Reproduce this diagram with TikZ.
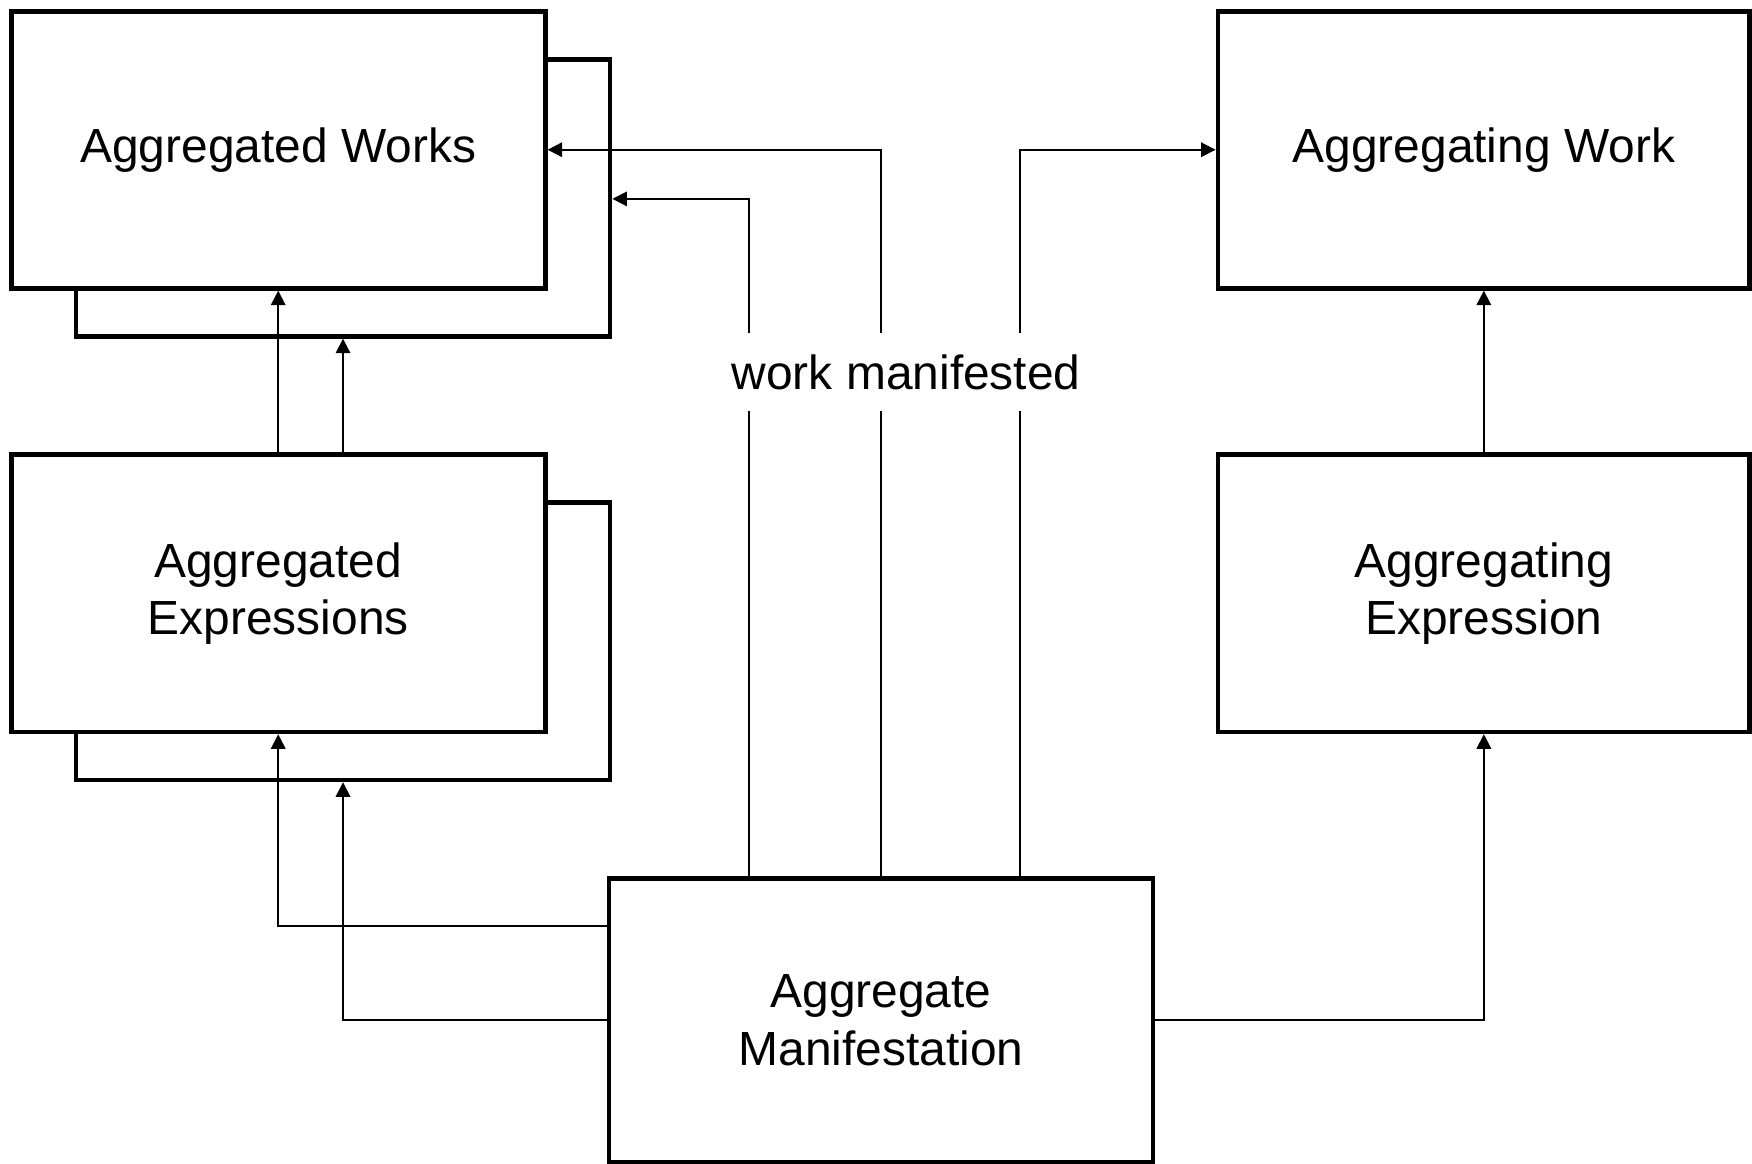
\documentclass[tikz,border=0pt]{standalone}
\usepackage{fontspec}
\setmainfont{Liberation Sans}
\usepackage{tikz}
\usetikzlibrary{shapes.geometric, arrows.meta, positioning}
\tikzstyle{entity} = [rectangle, minimum width=4.78cm, minimum height=2.48cm, text centered, align=center, draw=black, line width=1.2pt, fill=white, font=\fontsize{12.2pt}{14.6pt}\selectfont]
\tikzstyle{arrow} = [line width=0.45pt,->,>={Triangle[length=1.3mm,width=1.3mm]}]
\tikzstyle{relation} = [fill=white, minimum height=0.7cm, inner xsep=2pt, font=\fontsize{12.2pt}{14.6pt}\selectfont]

\begin{document}
\begin{tikzpicture}[node distance=3.97cm]
			\useasboundingbox (0,0) rectangle (15.68,-10.41);
			\node (works) at (2.49,-1.34) {};
			\node (worksback) [entity, xshift=0.58cm, yshift=-0.43cm] at (works) {};
			\node (works) [entity] at (2.49,-1.34) {\raisebox{-0.04cm}{Aggregated Works}};
			\node (expr) [below of=works] {};
			\node (exprback) [entity, xshift=0.58cm, yshift=-0.43cm] at (expr) {};
			\node (expr) [entity, below of=works] {Aggregated\\Expressions};
			\node (agwork) [entity, minimum width=4.76cm] at (13.28,-1.34) {\raisebox{-0.04cm}{Aggregating Work}};
			\node (agexpr) [entity, minimum width=4.76cm, below of=agwork] {Aggregating\\Expression};
			\node (manif) [entity, minimum width=4.87cm, minimum height=2.54cm] at (7.885,-9.13) {Aggregate\\Manifestation};
			
			\draw [arrow] (manif.north) |- (works.east);
			\draw [arrow] ([xshift=-1.185cm]manif.north) |- ([yshift=-0.01cm]worksback.east);
			\draw [arrow] ([xshift=1.245cm]manif.north) |- (agwork.west);
			\draw [arrow] (expr.north) -- (works.south);
			\draw [arrow] (worksback.south |- expr.north) -- (worksback.south);
			\draw [arrow] ([yshift=0.84cm]manif.west) -| (expr.south);
			\draw [arrow] (manif.west) -| (exprback.south);
			\draw [arrow] (manif.east) -| (agexpr.south);
			\draw [arrow] (agexpr.north) -- (agwork.south);
			
			\node (label) [relation] at (8.11,-3.33) {work manifested};
		\end{tikzpicture}
\end{document}
